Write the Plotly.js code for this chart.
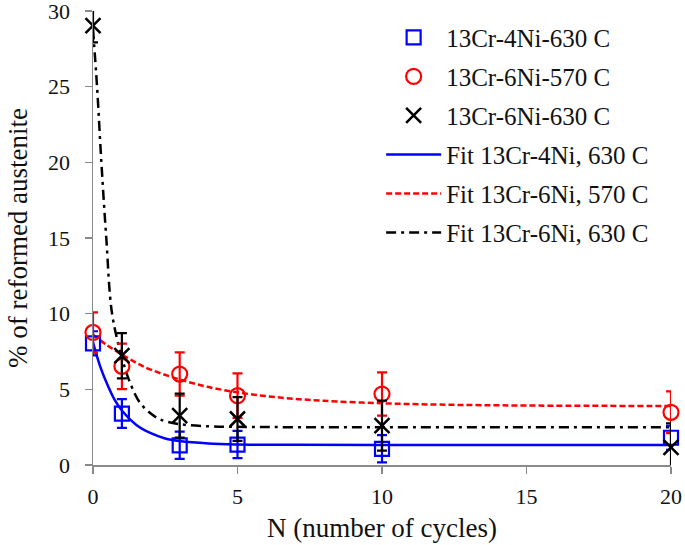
<!DOCTYPE html>
<html>
<head>
<meta charset="utf-8">
<script src="https://cdn.plot.ly/plotly-3.0.1.min.js"></script>
<style>
html,body{margin:0;padding:0;background:#fff;}
#chart{width:685px;height:545px;}
</style>
</head>
<body>
<div id="chart"></div>
<script>
// Measured data (N cycles vs % reformed austenite)
const cycles = [0, 1, 3, 5, 10, 20];
const cr4ni630 = [8.04, 3.4, 1.3, 1.35, 1.07, 1.8];
const cr4ni630Err = [0.8, 0.95, 0.9, 0.9, 0.9, 0.8];
const cr6ni570 = [8.76, 6.52, 6.01, 4.58, 4.69, 3.48];
const cr6ni570Err = [1.33, 1.5, 1.43, 1.47, 1.43, 1.38];
const cr6ni630 = [29.03, 7.22, 3.26, 3.04, 2.6, 1.16];
const cr6ni630Err = [1.1, 1.5, 1.45, 1.45, 1.65, 1.6];

// Fit curves
const fit4ni630X = [0, 0.25, 0.5, 0.75, 1, 1.5, 2, 2.5, 3, 4, 5, 7, 10, 15, 20];
const fit4ni630Y = [8.1, 6.5, 5.3, 4.3, 3.6, 2.65, 2.1, 1.75, 1.58, 1.42, 1.36, 1.33, 1.32, 1.32, 1.32];
const fit6ni570X = [0, 0.5, 1, 1.5, 2, 3, 4, 5, 6, 7, 8, 10, 12, 15, 20];
const fit6ni570Y = [8.6, 7.9, 7.3, 6.75, 6.3, 5.65, 5.15, 4.8, 4.55, 4.37, 4.24, 4.08, 3.99, 3.93, 3.9];
const fit6ni630X = [0, 0.14, 0.29, 0.46, 0.66, 1, 1.29, 1.63, 2, 2.33, 3, 4, 5, 7, 10, 20];
const fit6ni630Y = [28.8, 25, 20, 15, 10, 7.1, 5.4, 4.1, 3.4, 3.0, 2.7, 2.56, 2.52, 2.5, 2.5, 2.5];

const names = ['13Cr-4Ni-630 C', '13Cr-6Ni-570 C', '13Cr-6Ni-630 C',
               'Fit 13Cr-4Ni, 630 C', 'Fit 13Cr-6Ni, 570 C', 'Fit 13Cr-6Ni, 630 C'];
const xTicks = [0, 5, 10, 15, 20];
const yTicks = [0, 5, 10, 15, 20, 25, 30];

const FONT = 'Liberation Serif';

const traces = [
  {x: fit4ni630X, y: fit4ni630Y, name: names[3], mode: 'lines', legendrank: 4, legendgroup: 'g4',
   line: {color: '#0000ff', width: 2.5, shape: 'spline'}, cliponaxis: false},
  {x: fit6ni570X, y: fit6ni570Y, name: names[4], mode: 'lines', legendrank: 5, legendgroup: 'g5',
   line: {color: '#ff0000', width: 2.5, dash: '6px,3px', shape: 'spline'}, cliponaxis: false},
  {x: fit6ni630X, y: fit6ni630Y, name: names[5], mode: 'lines', legendrank: 6, legendgroup: 'g6',
   line: {color: '#000000', width: 2.5, dash: '10px,5px,3px,5px', shape: 'spline'}, cliponaxis: false},
  {x: cycles, y: cr4ni630, name: names[0], mode: 'markers', legendrank: 1, legendgroup: 'g1',
   marker: {symbol: 'square-open', size: 14, color: '#0000ff', line: {width: 2.2, color: '#0000ff'}},
   error_y: {type: 'data', array: cr4ni630Err, visible: true, color: '#0000ff', thickness: 2.2, width: 5},
   cliponaxis: false},
  {x: cycles, y: cr6ni570, name: names[1], mode: 'markers', legendrank: 2, legendgroup: 'g2',
   marker: {symbol: 'circle-open', size: 15, color: '#ff0000', line: {width: 2.2, color: '#ff0000'}},
   error_y: {type: 'data', array: cr6ni570Err, visible: true, color: '#ff0000', thickness: 2.2, width: 5},
   cliponaxis: false},
  {x: cycles, y: cr6ni630, name: names[2], mode: 'markers', legendrank: 3, legendgroup: 'g3',
   marker: {symbol: 'x-thin-open', size: 15, color: '#000000', line: {width: 2.5, color: '#000000'}},
   error_y: {type: 'data', array: cr6ni630Err, visible: true, color: '#000000', thickness: 2.2, width: 5},
   cliponaxis: false}
];

const axisCommon = {
  showgrid: false, zeroline: false, showline: true, linecolor: '#8a8a8a', linewidth: 1.5,
  ticks: 'outside', ticklen: 7, tickwidth: 1.5, tickcolor: '#8a8a8a',
  ticklabeloverflow: 'allow',
  tickfont: {family: FONT, size: 22, color: '#111'}
};

const layout = {
  width: 685, height: 545,
  margin: {l: 93, r: 14, t: 11, b: 80},
  paper_bgcolor: '#fff', plot_bgcolor: '#fff',
  font: {family: FONT, color: '#111'},
  showlegend: true,
  legend: {x: 0.4985, y: 0.992, xanchor: 'left', yanchor: 'top', bgcolor: 'rgba(0,0,0,0)',
           font: {family: FONT, size: 25, color: '#111'}, traceorder: 'grouped', tracegroupgap: 3.5,
           itemwidth: 55},
  xaxis: Object.assign({}, axisCommon, {range: [0, 20], tickvals: xTicks, ticktext: xTicks.map(String),
    ticklabelstandoff: 4,
    title: {text: 'N (number of cycles)', font: {family: FONT, size: 27, color: '#111'}, standoff: 10}}),
  yaxis: Object.assign({}, axisCommon, {range: [0, 30.001], tickvals: yTicks, ticktext: yTicks.map(String),
    ticklabelstandoff: 10,
    title: {text: '% of reformed austenite', font: {family: FONT, size: 27, color: '#111'}, standoff: 12}})
};

Plotly.newPlot('chart', traces, layout, {displayModeBar: false, staticPlot: true});
</script>
</body>
</html>
